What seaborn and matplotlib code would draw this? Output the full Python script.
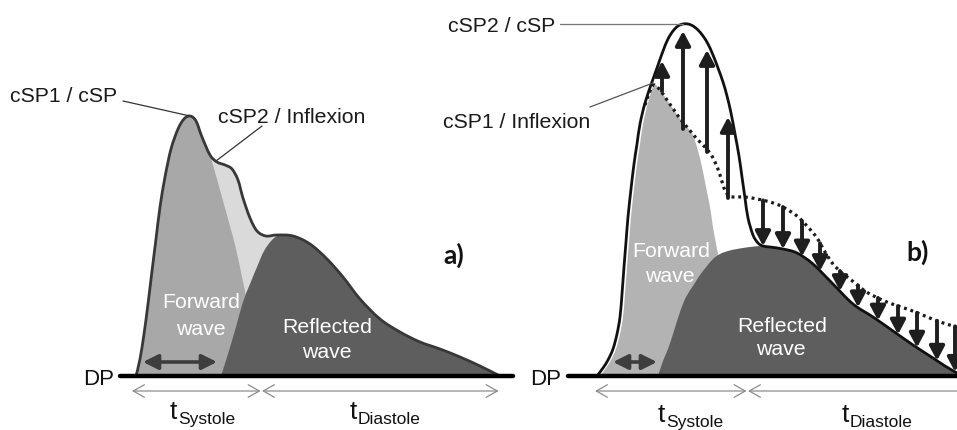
import numpy as np
import matplotlib
matplotlib.use("Agg")
import matplotlib.pyplot as plt
from matplotlib.path import Path
from matplotlib.patches import PathPatch
import seaborn as sns

sns.set_theme(style="white")
plt.rcParams["font.family"] = ["Liberation Sans", "DejaVu Sans"]

# ---------------- panel a: augmentation with late inflexion ----------------
outer_a_x = [136, 140, 144, 148, 152, 156, 160, 165, 171, 178, 184, 190, 196, 202, 210, 217,
             225, 232, 238, 243, 250, 257, 266, 277, 293, 310, 327, 343, 360, 380, 400, 420,
             440, 460, 480, 500]
outer_a_y = [377, 360, 335, 305, 272, 240, 208, 178, 150, 130, 120, 117, 122, 138, 156, 163,
             166, 170, 181, 199, 219, 232, 237, 236, 237, 245, 260, 278, 300, 320, 333, 343,
             350, 358, 367, 377]
fwd_edge_a_x = [210, 215, 220, 225, 230, 236, 242, 248, 253, 257]
fwd_edge_a_y = [156, 173, 191, 209, 227, 250, 278, 308, 342, 377]
refl_a_x = [221, 228, 236, 243, 250, 257, 264, 272, 280, 293, 310, 327, 343, 360, 380, 400,
            420, 440, 460, 480, 500]
refl_a_y = [377, 355, 328, 303, 285, 268, 252, 241, 236, 237, 245, 260, 278, 300, 320, 333,
            343, 350, 358, 367, 377]

# ---------------- panel b: amplified wave vs. original (dotted) ----------------
outer_b_x = [597, 603, 608, 613, 617, 620, 622, 624, 626, 628, 631, 634, 637, 640, 645, 652,
             657, 663, 668, 673, 678, 683, 688, 693, 698, 703, 708, 713, 718, 723, 727, 731,
             735, 739, 742, 745, 748, 753, 758, 763, 770, 783, 797, 813, 833, 853, 873, 893,
             913, 933, 945, 957]
outer_b_y = [377, 369, 361, 350, 335, 318, 295, 268, 243, 218, 190, 165, 145, 125, 104, 83,
             69, 52, 40, 32, 27, 25, 25, 27, 31, 37, 45, 56, 69, 83, 97, 114,
             135, 157, 178, 199, 219, 236, 244, 247, 248, 250, 254, 265, 285, 305, 318, 332,
             346, 359, 367, 374]
rise_b_x = [600, 606, 611, 616, 620, 623, 625, 627, 629, 631, 634, 637, 640, 643, 648, 654]
rise_b_y = [377, 369, 361, 350, 335, 318, 295, 268, 243, 218, 190, 165, 145, 125, 104, 86]
dotted_b_x = [645, 650, 654, 660, 667, 674, 681, 687, 692, 697, 703, 710, 715, 720, 724, 728,
              733, 745, 757, 770, 783, 797, 807, 817, 825, 833, 842, 850, 865, 880, 895, 910,
              925, 940, 957]
dotted_b_y = [106, 92, 86, 91, 101, 111, 121, 128, 134, 140, 146, 154, 163, 176, 189, 196,
              198, 198, 200, 203, 208, 217, 227, 239, 253, 265, 274, 280, 292, 300, 306, 311,
              317, 323, 328]
fwd_edge_b_x = [692, 697, 702, 706, 710, 713, 717, 722, 727, 733]
fwd_edge_b_y = [134, 148, 168, 188, 208, 228, 250, 275, 305, 377]
refl_b_x = [658, 663, 668, 673, 680, 686, 693, 700, 707, 713, 720, 728, 737, 750, 763, 770,
            783, 797, 813, 833, 853, 873, 893, 913, 933, 945, 957]
refl_b_y = [377, 362, 350, 335, 313, 298, 287, 276, 267, 260, 255, 252, 250, 248, 247, 248,
            250, 254, 265, 285, 305, 318, 332, 346, 359, 367, 374]

up_x = [662, 683, 707, 728]
up_base = [92, 130, 153, 199]
up_tip = [62, 32, 51, 118]
down_x = [763, 783, 802, 820, 840, 858, 878, 898, 917, 937, 955]

dp_y = 377
dp_a_x = [120, 513]
dp_b_x = [568, 960]
time_y = 392
time_a_x = [132, 262, 500]
time_b_x = [595, 748, 975]
pulse_arrow_y = 363
pulse_a_x = [143, 217]
pulse_b_x = [613, 657]


def smooth_path(pieces, close=False):
    """Chain pieces (x, y, smooth) into one path; smooth pieces become Catmull-Rom Beziers."""
    verts, codes = [], []
    for k, (xs, ys, smooth) in enumerate(pieces):
        p = np.column_stack([xs, ys]).astype(float)
        verts.append(p[0])
        codes.append(Path.MOVETO if k == 0 else Path.LINETO)
        if smooth:
            n = len(p)
            for i in range(n - 1):
                p0 = p[max(i - 1, 0)]
                p1, p2 = p[i], p[i + 1]
                p3 = p[min(i + 2, n - 1)]
                verts += [p1 + (p2 - p0) / 6, p2 - (p3 - p1) / 6, p2]
                codes += [Path.CURVE4] * 3
        else:
            for q in p[1:]:
                verts.append(q)
                codes.append(Path.LINETO)
    if close:
        verts.append(verts[0])
        codes.append(Path.CLOSEPOLY)
    return Path(verts, codes)


fig = plt.figure(figsize=(9.57, 4.31), dpi=100)
ax = fig.add_axes([0, 0, 1, 1])
ax.set_xlim(0, 957)
ax.set_ylim(431, 0)
ax.axis("off")

# ---- panel a fills ----
ax.add_patch(PathPatch(smooth_path([(outer_a_x, outer_a_y, True)], close=True),
                       fc="#dadada", ec="none", zorder=1))
ia = outer_a_x.index(fwd_edge_a_x[0])
ax.add_patch(PathPatch(smooth_path([(outer_a_x[:ia + 1], outer_a_y[:ia + 1], True),
                                    (fwd_edge_a_x, fwd_edge_a_y, True)], close=True),
                       fc="#a8a8a8", ec="none", zorder=2))
ax.add_patch(PathPatch(smooth_path([(refl_a_x, refl_a_y, True)], close=True),
                       fc="#5e5e5e", ec="none", zorder=3))
ax.add_patch(PathPatch(smooth_path([(outer_a_x, outer_a_y, True)]),
                       fc="none", ec="#383838", lw=2.0, zorder=4))

# ---- panel b fills ----
ib = dotted_b_x.index(fwd_edge_b_x[0])
ax.add_patch(PathPatch(smooth_path([(rise_b_x + dotted_b_x[3:ib + 1], rise_b_y + dotted_b_y[3:ib + 1], True),
                                    (fwd_edge_b_x, fwd_edge_b_y, True)], close=True),
                       fc="#b3b3b3", ec="none", zorder=2))
ax.add_patch(PathPatch(smooth_path([(refl_b_x, refl_b_y, True),
                                    ([957, 957], [374, 377], False)], close=True),
                       fc="#5e5e5e", ec="none", zorder=3))
ax.add_patch(PathPatch(smooth_path([(dotted_b_x, dotted_b_y, True)]),
                       fc="none", ec="#1a1a1a", lw=2.3, ls=(0, (0.9, 1.2)), zorder=4))
ax.add_patch(PathPatch(smooth_path([(outer_b_x, outer_b_y, True)]),
                       fc="none", ec="#111111", lw=2.0, zorder=5))

# ---- amplification arrows ----
arrow_style = dict(arrowstyle="-|>,head_length=0.85,head_width=0.45", color="#1e1e1e",
                   lw=2.8, shrinkA=0, shrinkB=0, mutation_scale=10)
for x, y0, y1 in zip(up_x, up_base, up_tip):
    ax.annotate("", xy=(x, y1), xytext=(x, y0), arrowprops=arrow_style, zorder=6)
down_from = np.interp(down_x, dotted_b_x, dotted_b_y)
down_to = np.interp(down_x, outer_b_x, outer_b_y)
for x, y0, y1 in zip(down_x, down_from, down_to):
    ax.annotate("", xy=(x, y1), xytext=(x, y0), arrowprops=arrow_style, zorder=6,
                annotation_clip=False)

# ---- DP baselines ----
for xs in (dp_a_x, dp_b_x):
    sns.lineplot(x=xs, y=[dp_y, dp_y], ax=ax, color="black", lw=3.2, legend=False,
                 sort=False, estimator=None, zorder=7)

# ---- forward pulse-width arrows ----
for xs in (pulse_a_x, pulse_b_x):
    ax.annotate("", xy=(xs[1], pulse_arrow_y), xytext=(xs[0], pulse_arrow_y),
                arrowprops=dict(arrowstyle="<|-|>,head_length=0.9,head_width=0.45",
                                color="#3e3e3e", lw=2.6, shrinkA=0, shrinkB=0,
                                mutation_scale=10), zorder=8)

# ---- systole / diastole spans ----
for xs in (time_a_x, time_b_x):
    for x0, x1 in zip(xs[:-1], xs[1:]):
        ax.annotate("", xy=(x1, time_y), xytext=(x0, time_y),
                    arrowprops=dict(arrowstyle="<->,head_length=0.8,head_width=0.45",
                                    color="#8c8c8c", lw=0.9, shrinkA=0, shrinkB=1,
                                    mutation_scale=10), zorder=8,
                    annotation_clip=False)

# ---- text ----
lab = dict(fontsize=15.3, color="#1a1a1a")
ax.text(10, 102, "cSP1 / cSP", ha="left", va="baseline", **lab)
ax.text(218, 123, "cSP2 / Inflexion", ha="left", va="baseline", **lab)
ax.text(555, 32, "cSP2 / cSP", ha="right", va="baseline", **lab)
ax.text(443, 128, "cSP1 / Inflexion", ha="left", va="baseline", **lab)
ax.plot([123, 190], [102, 117], color="#333333", lw=0.9, zorder=9)
ax.plot([262, 216], [127, 162], color="#333333", lw=0.9, zorder=9)
ax.plot([560, 683], [25, 25], color="#777777", lw=0.9, zorder=9)
ax.plot([590, 653], [108, 84], color="#555555", lw=0.9, zorder=9)

ax.text(83, 385, "DP", ha="left", va="baseline", fontsize=16, color="#111111")
ax.text(530, 385, "DP", ha="left", va="baseline", fontsize=16, color="#111111")

wl = dict(fontsize=15.3, color="white", ha="center", va="baseline", zorder=9)
ax.text(201, 308, "Forward", **wl)
ax.text(201, 335, "wave", **wl)
ax.text(327, 333, "Reflected", **wl)
ax.text(327, 358, "wave", **wl)
ax.text(671, 257, "Forward", **wl)
ax.text(670, 282, "wave", **wl)
ax.text(782, 332, "Reflected", **wl)
ax.text(781, 355, "wave", **wl)

pl = dict(fontsize=19, fontweight="bold", family=["Lato", "DejaVu Sans"], color="#111111",
          ha="center", va="center")
ax.text(454, 255, "a)", **pl)
ax.text(918, 252, "b)", **pl)

for tx, base, sub in [(170, 419, "Systole"), (350, 419, "Diastole"),
                      (658, 422, "Systole"), (842, 422, "Diastole")]:
    ax.text(tx, base, "t", fontsize=19, color="#111111", ha="left", va="baseline")
    ax.text(tx + 8, base + 5, sub, fontsize=12.5, color="#111111", ha="left", va="baseline")

fig.savefig("out.png", dpi=100)
